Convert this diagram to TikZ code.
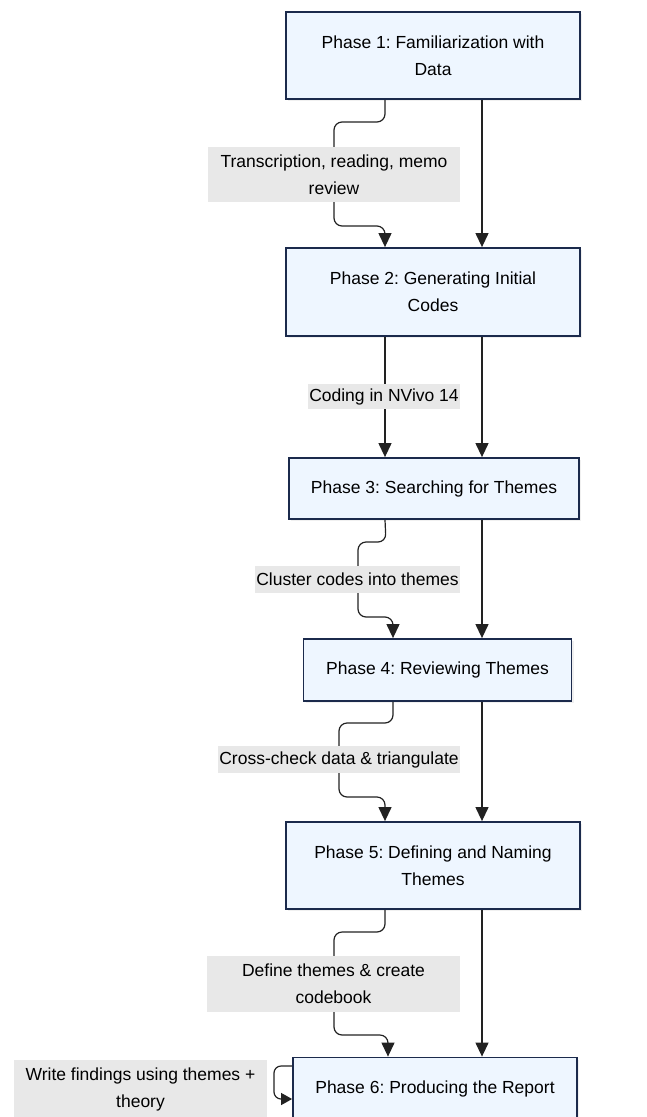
\documentclass[tikz,border=0pt]{standalone}
\usepackage{fontspec}
\setmainfont{Liberation Sans}
\usetikzlibrary{arrows.meta,shadows}
\definecolor{boxfill}{HTML}{EEF6FF}
\definecolor{boxdraw}{HTML}{1B2A4C}
\definecolor{lblfill}{HTML}{E8E8E8}
\definecolor{linecol}{HTML}{222222}
\frenchspacing
\begin{document}
\begin{tikzpicture}[x=1pt,y=-1pt,
  phase/.style={draw=boxdraw,line width=1.8pt,fill=boxfill,align=center,inner sep=0pt,
     font=\fontsize{17.5}{27}\selectfont,
     drop shadow={opacity=0.12,shadow xshift=2pt,shadow yshift=-2pt}},
  lbl/.style={fill=lblfill,align=center,inner sep=0pt,font=\fontsize{17.5}{27}\selectfont},
  conn/.style={draw=linecol,line width=1.2pt,rounded corners=8pt,
     -{Triangle[width=13pt,length=14pt]}}]
\useasboundingbox (0,0) rectangle (646,1117);
% boxes
\node[phase,minimum width=294pt,minimum height=87pt] (p1) at (433,55.5) {Phase 1: Familiarization with\\Data};
\node[phase,minimum width=294pt,minimum height=88pt] (p2) at (433,292) {Phase 2: Generating Initial\\Codes};
\node[phase,minimum width=290pt,minimum height=61pt] (p3) at (434,488.5) {Phase 3: Searching for Themes};
\node[phase,minimum width=268pt,minimum height=62pt] (p4) at (437.5,670) {Phase 4: Reviewing Themes};
\node[phase,minimum width=294pt,minimum height=87pt] (p5) at (433,865.5) {Phase 5: Defining and Naming\\Themes};
\node[phase,minimum width=284pt,minimum height=62pt] (p6) at (435,1088.5) {Phase 6: Producing the Report};
% column coordinates
\coordinate (R) at (482,0);
\coordinate (A) at (385,0);
\coordinate (D) at (393,0);
\coordinate (F) at (388,0);
% right straight arrows
\draw[conn] (p1.south -| R) -- (p2.north -| R);
\draw[conn] (p2.south -| R) -- (p3.north -| R);
\draw[conn] (p3.south -| R) -- (p4.north -| R);
\draw[conn] (p4.south -| R) -- (p5.north -| R);
\draw[conn] (p5.south -| R) -- (p6.north -| R);
% left labelled arrows
\draw[conn] (p1.south -| A) -- (385,122) -- (334,122) -- (334,226) -- (385,226) -- (p2.north -| A);
\draw[conn] (p2.south -| A) -- (p3.north -| A);
\draw[conn] (p3.south -| A) -- (386,542) -- (358,542) -- (358,617) -- (393,617) -- (p4.north -| D);
\draw[conn] (p4.south -| D) -- (393,723) -- (339,723) -- (339,797) -- (385,797) -- (p5.north -| A);
\draw[conn] (p5.south -| A) -- (385,932) -- (334,932) -- (334,1035) -- (388,1035) -- (p6.north -| F);
% self loop
\coordinate (S1) at (0,1066);
\coordinate (S2) at (0,1099);
\draw[conn,rounded corners=7pt,-{Triangle[width=12pt,length=11pt]}] (p6.west |- S1) -- (274,1066) -- (274,1099) -- (p6.west |- S2);
% labels
\node[lbl,minimum width=252pt,minimum height=55pt] (l1) at (334,174.5) {Transcription, reading, memo\\review};
\node[lbl,minimum width=152pt,minimum height=25pt] (l2) at (384,396.5) {Coding in NVivo 14};
\node[lbl,minimum width=205pt,minimum height=27pt] (l3) at (357.5,579) {Cluster codes into themes};
\node[lbl,minimum width=242pt,minimum height=27pt] (l4) at (339,759.5) {Cross-check data \& triangulate};
\node[lbl,minimum width=253pt,minimum height=56pt] (l5) at (333.5,984) {Define themes \& create\\codebook};
\node[lbl,minimum width=253pt,minimum height=58pt] (l6) at (140.5,1089) {Write findings using themes +\\theory};
\end{tikzpicture}
\end{document}
